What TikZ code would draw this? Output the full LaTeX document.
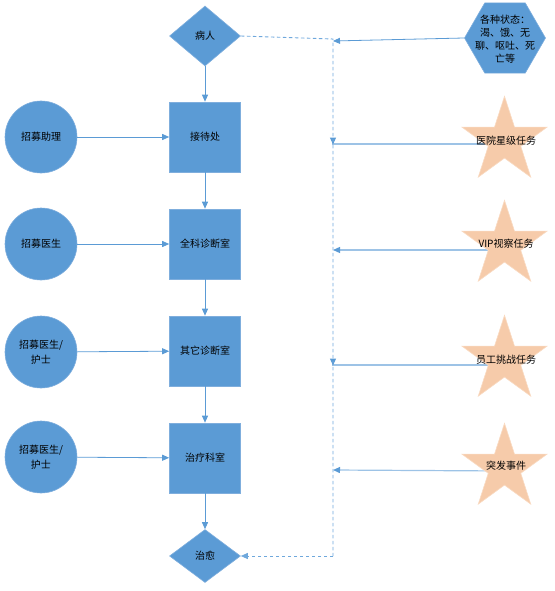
\documentclass[tikz,border=0pt]{standalone}
\usepackage{fontspec}
\newfontfamily\cjk{Noto Sans CJK SC}
\usetikzlibrary{shapes.geometric,arrows.meta,backgrounds}
\definecolor{fillblue}{HTML}{5B9BD5}
\definecolor{edgeblue}{HTML}{7FAEDD}
\definecolor{lineblue}{HTML}{5B9BD5}
\definecolor{dashblue}{HTML}{6FA8DC}
\definecolor{peach}{HTML}{F6CBAA}
\begin{document}
\begin{tikzpicture}[x=1pt,y=-1pt,
  txt/.style={font=\cjk\fontsize{10}{14.5}\selectfont, text=black, align=center, inner sep=0pt},
  box/.style={txt, rectangle, fill=fillblue, draw=edgeblue, line width=0.6pt, minimum width=71pt, minimum height=70pt},
  dia/.style={txt, diamond, fill=fillblue, draw=edgeblue, line width=0.6pt, minimum width=71pt, inner sep=0pt},
  circ/.style={txt, circle, fill=fillblue, draw=edgeblue, line width=0.6pt, minimum size=72pt},
  hexa/.style={regular polygon, regular polygon sides=6, fill=fillblue, draw=edgeblue, line width=0.6pt, minimum size=81pt, inner sep=0pt},
  starshape/.style={star, star points=5, star point ratio=2.618, fill=peach, draw=peach!70!white, line width=0.6pt, minimum size=89.4pt, inner sep=0pt},
  arr/.style={draw=lineblue, line width=0.8pt, -{Triangle[length=7pt,width=6pt]}},
  sarr/.style={draw=lineblue!60!white, line width=1.2pt, -{Triangle[length=7pt,width=6pt,fill=lineblue,color=lineblue]}},
  dashline/.style={draw=dashblue, line width=0.9pt, dash pattern=on 3.5pt off 2.5pt}
]
\useasboundingbox (0,0) rectangle (554,591);

% main column
\node[dia, minimum height=60pt] (bing) at (205,36) {病人};
\node[box] (jie) at (205,137) {接待处};
\node[box] (quan) at (205,244) {全科诊断室};
\node[box] (qi) at (205,351) {其它诊断室};
\node[box] (zhi) at (205,458) {治疗科室};
\node[dia, minimum height=53pt] (yu) at (205,556) {治愈};

% circles
\node[circ] (c1) at (41,137) {招募助理};
\node[circ] (c2) at (41,244) {招募医生};
\node[circ] (c3) at (41,352) {招募医生/\\护士};
\node[circ] (c4) at (41,457) {招募医生/\\护士};

% hexagon
\node[hexa] (hex) at (505,38) {};
\node[txt, font=\cjk\fontsize{10}{12.8}\selectfont] (hext) at (505,39) {各种状态：\\渴、饿、无\\聊、呕吐、死\\亡等};

% stars
\node[starshape] (s1) at (504.5,141) {};
\node[txt] (s1t) at (506,141) {医院星级任务};
\node[starshape] (s2) at (504.5,245) {};
\node[txt] (s2t) at (506,244) {VIP视察任务};
\node[starshape] (s3) at (504.5,360) {};
\node[txt] (s3t) at (506,360) {员工挑战任务};
\node[starshape] (s4) at (504.5,468) {};
\node[txt] (s4t) at (506,466) {突发事件};

% trunk coordinates
\coordinate (t0) at (333,39);
\coordinate (tb) at (333,556);
\coordinate (jh) at (333,41);
\coordinate (j1) at (333,144);
\coordinate (j2) at (333,250);
\coordinate (j3) at (333,365);
\coordinate (j4) at (333,470);

% vertical flow
\draw[arr] (bing) -- (jie);
\draw[arr] (jie) -- (quan);
\draw[arr] (quan) -- (qi);
\draw[arr] (qi) -- (zhi);
\draw[arr] (zhi) -- (yu);

% circle arrows
\draw[arr] (c1) -- (jie);
\draw[arr] (c2) -- (quan);
\draw[arr] (c3) -- (qi);
\draw[arr] (c4) -- (zhi);

% dashed trunk
\draw[dashline] (bing.east) -- (t0) -- (tb);
\draw[dashline, -{Triangle[length=7pt,width=6pt]}] (tb) -- (yu.east);

% hexagon arrow
\draw[arr] (hex.west) -- (jh);

% star arrows behind stars
\begin{pgfonlayer}{background}
\draw[sarr] ([yshift=-3pt]s1.center) -- (j1) -- ++(0,0.5);
\draw[sarr] ([yshift=-5pt]s2.center) -- (j2);
\draw[sarr] ([yshift=-5pt]s3.center) -- (j3) -- ++(0,0.5);
\draw[sarr] ([yshift=-3pt]s4.center) -- (j4);
\end{pgfonlayer}
\end{tikzpicture}
\end{document}
